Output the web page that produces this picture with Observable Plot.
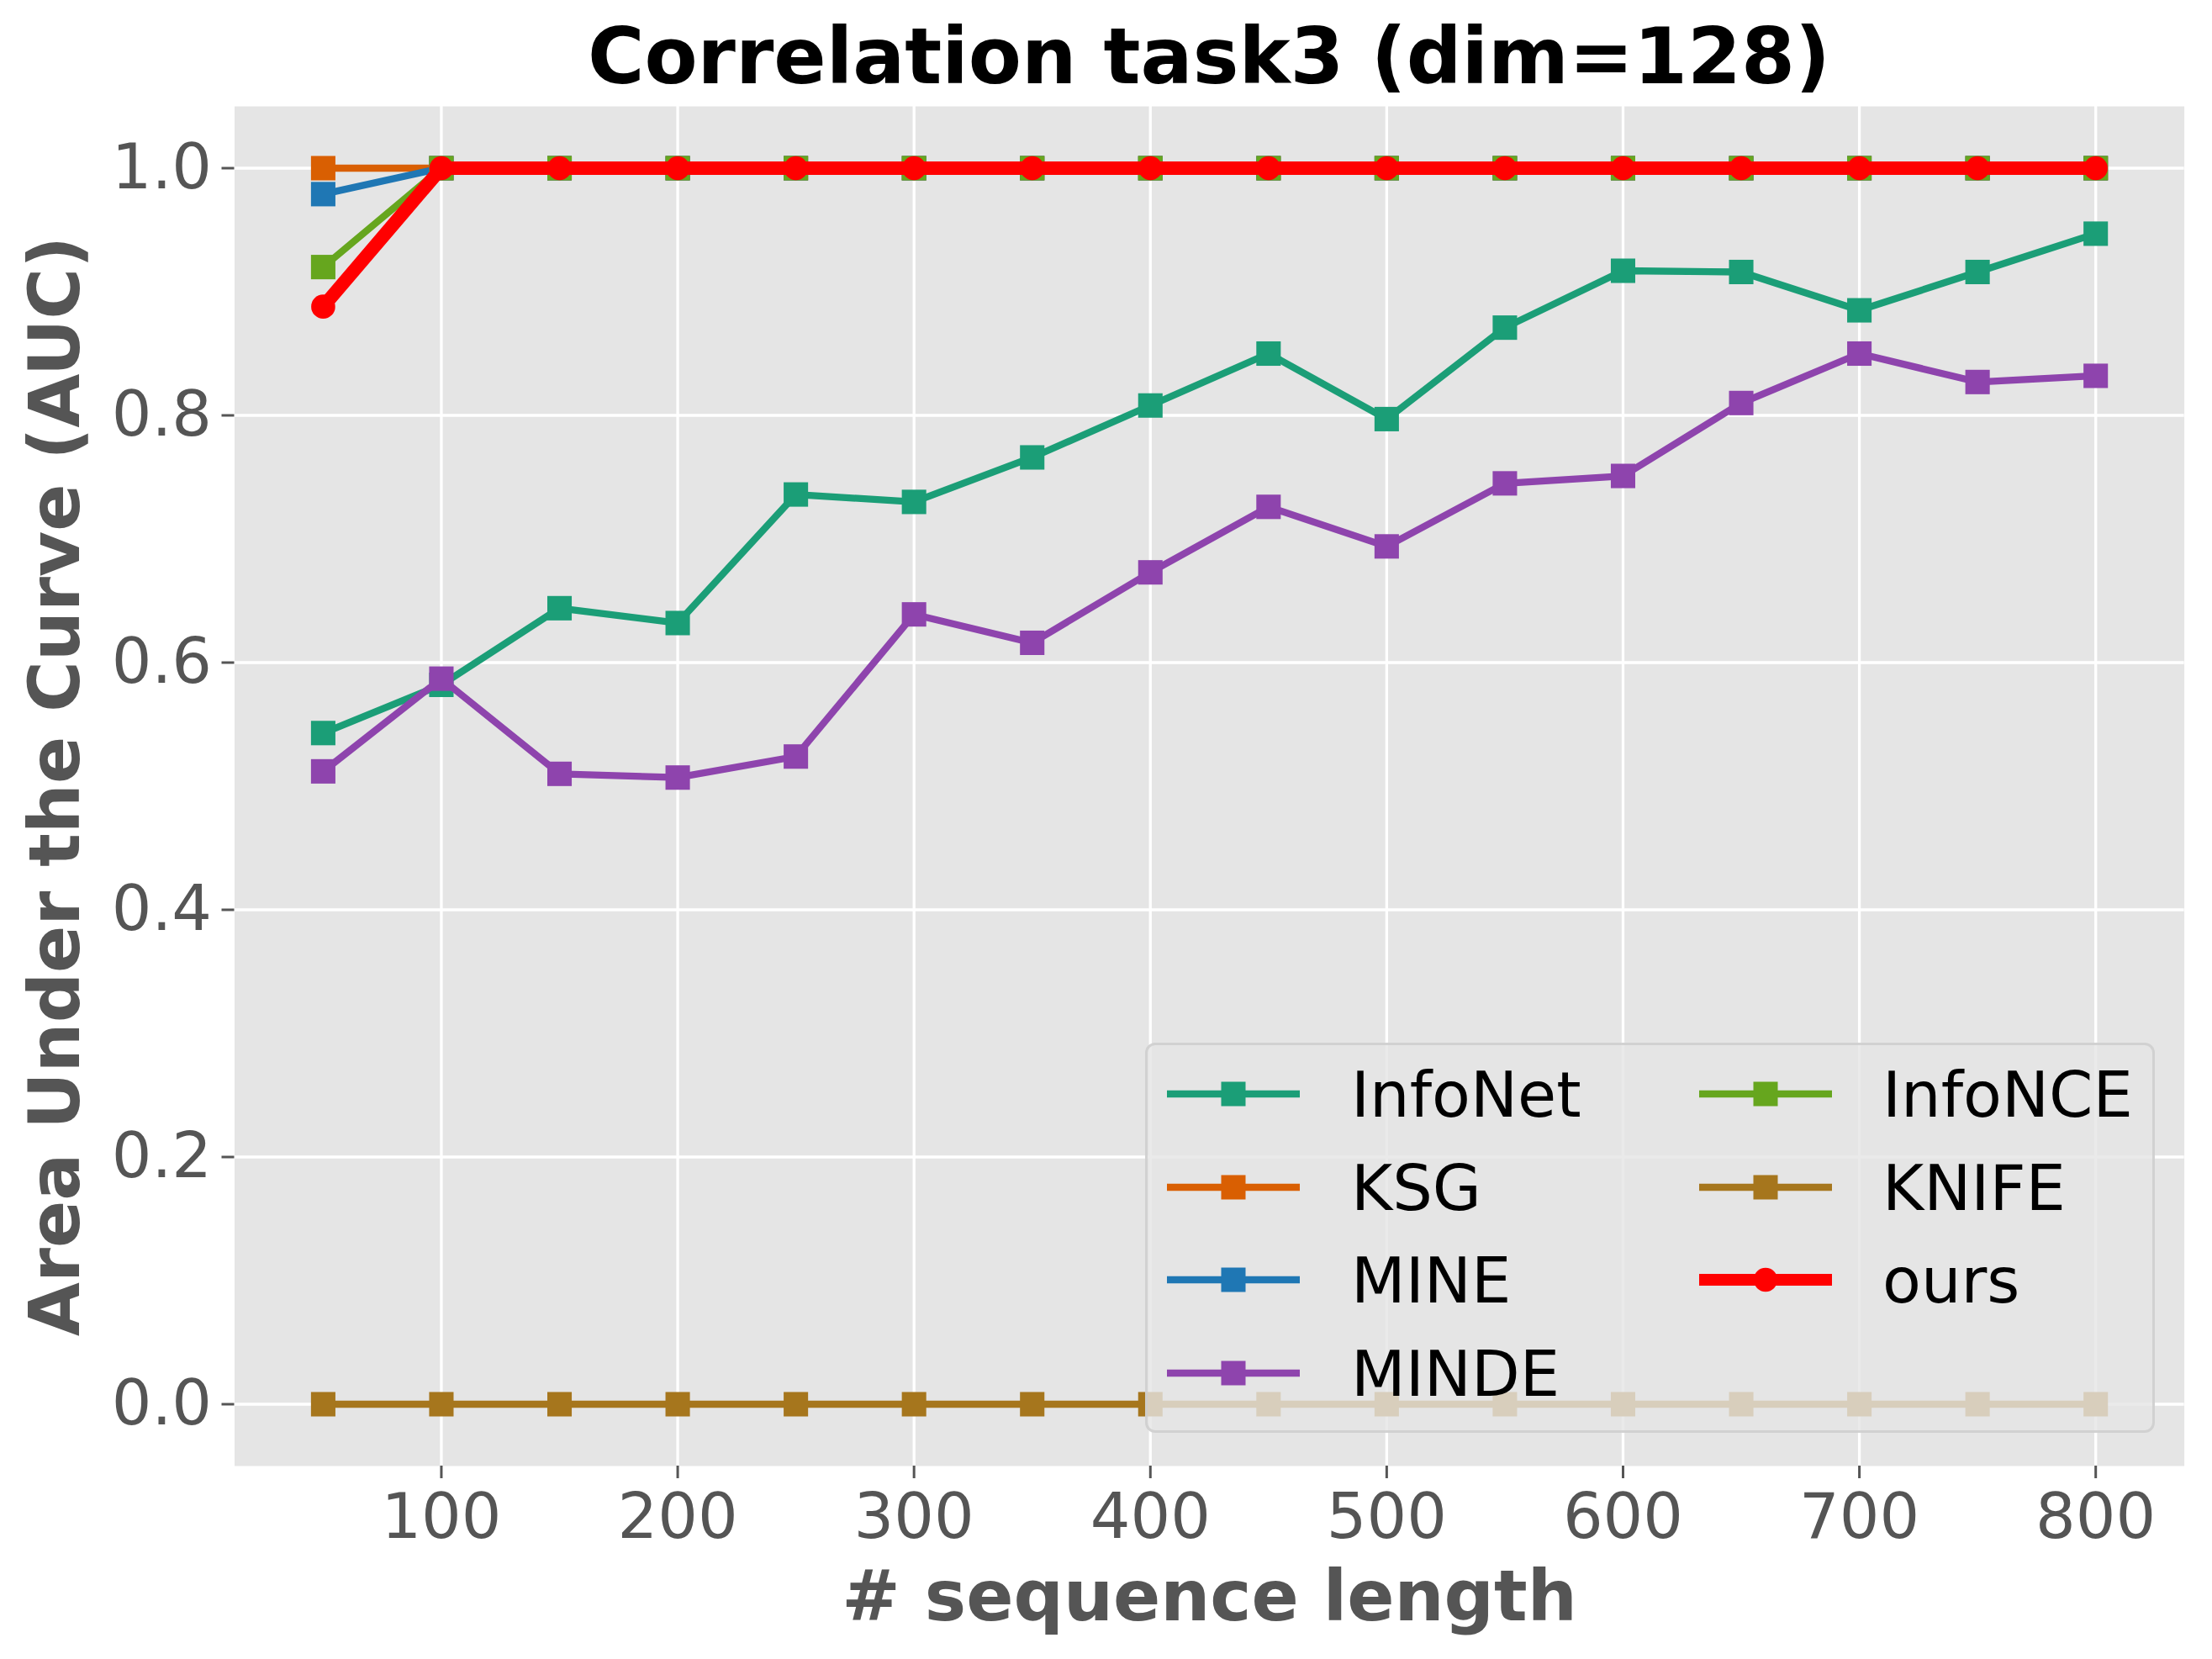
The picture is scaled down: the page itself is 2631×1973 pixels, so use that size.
<!DOCTYPE html>
<html><head><meta charset="utf-8">
<script src="https://cdn.jsdelivr.net/npm/d3@7"></script>
<script src="https://cdn.jsdelivr.net/npm/@observablehq/plot@0.6"></script>
<style>
body{margin:0;background:#fff;}
#fig{position:relative;width:2631px;height:1973px;font-family:"DejaVu Sans";overflow:hidden;}
#title{position:absolute;left:278px;width:2320px;top:22px;text-align:center;font-size:92px;line-height:92px;font-weight:bold;color:#000;white-space:nowrap;}
#chart{position:absolute;left:0;top:110px;}
#legend{position:absolute;left:1362px;top:1240px;width:1195px;height:458px;background:rgba(229,229,229,0.8);border:3px solid rgba(204,204,204,0.8);border-radius:12px;}
.hd{position:absolute;}
.lab{position:absolute;font-size:75px;line-height:75px;color:#000;white-space:nowrap;}
</style></head>
<body>
<div id="fig">
  <div id="title">Correlation task3 (dim=128)</div>
  <div id="chart"></div>
  <div id="legend"></div>
</div>
<script>
// ---- data ----
const seqLen = [50,100,150,200,250,300,350,400,450,500,550,600,650,700,750,800];
const infoNet = [0.543,0.582,0.644,0.632,0.736,0.730,0.766,0.808,0.850,0.797,0.871,0.917,0.916,0.885,0.916,0.947];
const ksg     = [1,1,1,1,1,1,1,1,1,1,1,1,1,1,1,1];
const mine    = [0.979,1,1,1,1,1,1,1,1,1,1,1,1,1,1,1];
const minde   = [0.512,0.587,0.510,0.507,0.524,0.639,0.616,0.673,0.726,0.694,0.745,0.751,0.810,0.850,0.827,0.832];
const infoNCE = [0.920,1,1,1,1,1,1,1,1,1,1,1,1,1,1,1];
const knife   = [0,0,0,0,0,0,0,0,0,0,0,0,0,0,0,0];
const ours    = [0.888,1,1,1,1,1,1,1,1,1,1,1,1,1,1,1];
const seriesNames  = ["InfoNet","KSG","MINE","MINDE","InfoNCE","KNIFE","ours"];
const seriesColors = ["#1b9e77","#d95f02","#1f77b4","#8e44ad","#66a61e","#a6761d","#ff0000"];
const xTicks = [100,200,300,400,500,600,700,800];
const yTicks = [0,0.2,0.4,0.6,0.8,1.0];
const xLabel = "# sequence length";
const yLabel = "Area Under the Curve (AUC)";

const seriesValues = [infoNet, ksg, mine, minde, infoNCE, knife, ours];
const rows = seriesNames.flatMap((name, i) => seqLen.map((x, j) => ({series: name, x, y: seriesValues[i][j]})));

const marks = [
  Plot.frame({fill: "#e5e5e5"}),
  Plot.gridX(xTicks, {stroke: "white", strokeOpacity: 1, strokeWidth: 3.3}),
  Plot.gridY(yTicks, {stroke: "white", strokeOpacity: 1, strokeWidth: 3.3}),
  Plot.axisX(xTicks, {tickSize: 15, tickPadding: 17, fontSize: 75, strokeWidth: 3, label: null, tickFormat: d => String(d)}),
  Plot.axisY(yTicks, {tickSize: 15, tickPadding: 12, fontSize: 75, strokeWidth: 3, label: null, tickFormat: d3.format(".1f")}),
  Plot.text([xLabel], {frameAnchor: "bottom", dy: 157, fontSize: 83, fontWeight: "bold", fill: "#555555", lineAnchor: "middle", textAnchor: "middle"}),
  Plot.text([yLabel], {frameAnchor: "left", dx: -212, rotate: -90, fontSize: 83, fontWeight: "bold", fill: "#555555", lineAnchor: "middle", textAnchor: "middle"})
];
seriesNames.forEach((name, i) => {
  const d = rows.filter(r => r.series === name);
  const isOurs = name === "ours";
  marks.push(Plot.line(d, {x: "x", y: "y", stroke: seriesColors[i], strokeWidth: isOurs ? 16 : 8.3}));
  marks.push(Plot.dot(d, {x: "x", y: "y", fill: seriesColors[i], symbol: isOurs ? "circle" : "square", r: isOurs ? 14.3 : 16.4}));
});

const chart = Plot.plot({
  width: 2631, height: 1863,
  marginLeft: 278.5, marginRight: 33.4, marginTop: 16, marginBottom: 230,
  x: {domain: [12.5, 837.5]},
  y: {domain: [-0.05, 1.05]},
  style: {fontFamily: "DejaVu Sans", background: "white", color: "#555555"},
  marks
});
document.getElementById("chart").appendChild(chart);

// ---- legend (overlay inside axes, like the reference) ----
const legend = document.getElementById("legend");
const cols = [[0,1,2,3],[4,5,6]];
const colHandleX = [23, 656];
const colTextX = [242, 874];
const rowY = [58, 169, 279, 390];
const NS = "http://www.w3.org/2000/svg";
cols.forEach((col, c) => col.forEach((si, r) => {
  const isOurs = seriesNames[si] === "ours";
  const svg = document.createElementNS(NS, "svg");
  svg.setAttribute("width", 160); svg.setAttribute("height", 40);
  svg.setAttribute("class", "hd");
  svg.style.left = colHandleX[c] + "px";
  svg.style.top = (rowY[r] - 20) + "px";
  const ln = document.createElementNS(NS, "line");
  ln.setAttribute("x1", 0); ln.setAttribute("x2", 158);
  ln.setAttribute("y1", 20); ln.setAttribute("y2", 20);
  ln.setAttribute("stroke", seriesColors[si]);
  ln.setAttribute("stroke-width", isOurs ? 14 : 8.3);
  svg.appendChild(ln);
  let mk;
  if (isOurs) {
    mk = document.createElementNS(NS, "circle");
    mk.setAttribute("cx", 79); mk.setAttribute("cy", 20); mk.setAttribute("r", 14.3);
  } else {
    mk = document.createElementNS(NS, "rect");
    mk.setAttribute("x", 79 - 14.5); mk.setAttribute("y", 20 - 14.5);
    mk.setAttribute("width", 29); mk.setAttribute("height", 29);
  }
  mk.setAttribute("fill", seriesColors[si]);
  svg.appendChild(mk);
  legend.appendChild(svg);
  const t = document.createElement("div");
  t.className = "lab";
  t.textContent = seriesNames[si];
  t.style.left = colTextX[c] + "px";
  t.style.top = (rowY[r] - 36) + "px";
  legend.appendChild(t);
}));
</script>
</body></html>
